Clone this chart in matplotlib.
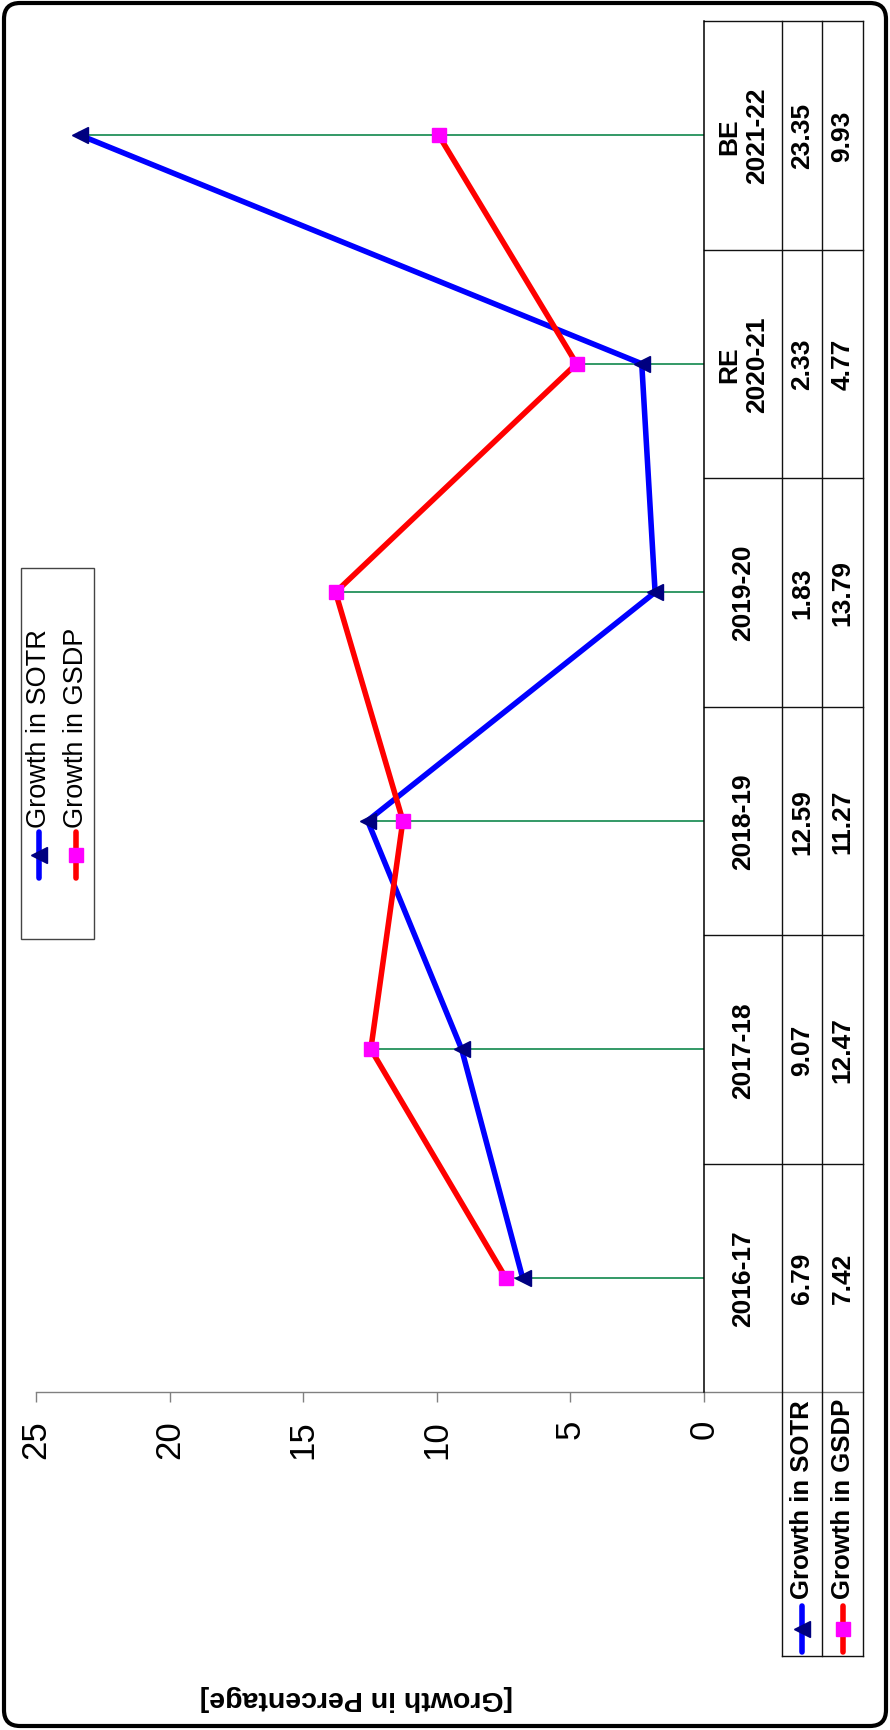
import matplotlib
matplotlib.use("Agg")
import matplotlib.pyplot as plt
from matplotlib.patches import Rectangle, FancyBboxPatch
import numpy as np

plt.rcParams['font.family'] = ['Liberation Sans', 'DejaVu Sans']

# ---------------- data ----------------
categories = ["2016-17", "2017-18", "2018-19", "2019-20", "RE\n2020-21", "BE\n2021-22"]
sotr = [6.79, 9.07, 12.59, 1.83, 2.33, 23.35]
gsdp = [7.42, 12.47, 11.27, 13.79, 4.77, 9.93]
series_names = ["Growth in SOTR", "Growth in GSDP"]
value_ticks = [0, 5, 10, 15, 20, 25]
value_label = "[Growth in Percentage]"

# ---------------- layout (pixels) ----------------
W, H = 890, 1731
PX0, PX25 = 704, 36          # value 0 and value 25 x positions
PTOP, PBOT = 22, 1393        # category band top/bottom
COLS = [704, 782, 822, 863]  # table column edges
KEY_BOT = 1657

fig = plt.figure(figsize=(W / 100, H / 100), dpi=100)
fig.patch.set_facecolor("white")

ax = fig.add_axes([PX25 / W, 1 - PBOT / H, (PX0 - PX25) / W, (PBOT - PTOP) / H])
n = len(categories)
idx = np.arange(n)
ax.set_xlim(25, 0)
ax.set_ylim(-0.5, n - 0.5)
for s in ["top", "left", "right"]:
    ax.spines[s].set_visible(False)
ax.spines["bottom"].set_color("#808080")
ax.spines["bottom"].set_linewidth(1.0)
ax.set_yticks([])
ax.set_xticks(value_ticks)
ax.set_xticklabels([str(v) for v in value_ticks], rotation=90, fontsize=25)
ax.tick_params(axis="x", direction="out", length=7.5, width=1.0, color="#808080", pad=12)

# drop lines to the highest point
mx = np.maximum(sotr, gsdp)
ax.hlines(idx, 0, mx, color="#339966", lw=1.4, zorder=1)

ax.plot(sotr, idx, color="#0000FF", lw=4.0, marker="<", ms=11,
        mfc="#000080", mec="#000080", zorder=3, clip_on=False)
ax.plot(gsdp, idx, color="#FF0000", lw=4.0, marker="s", ms=10,
        mfc="#FF00FF", mec="#FF00FF", zorder=4, clip_on=False)

# ---------------- overlay in pixel coords ----------------
ov = fig.add_axes([0, 0, 1, 1])
ov.set_xlim(0, W)
ov.set_ylim(H, 0)
ov.set_axis_off()

lc = "#111111"
row_h = (PBOT - PTOP) / n
for k in range(n + 1):
    y = PTOP + k * row_h
    ov.plot([COLS[0], COLS[3]], [y, y], color=lc if k < n else "#808080", lw=1.0)
ov.plot([COLS[0], COLS[0]], [PTOP, PBOT], color="black", lw=1.1)
for cx in COLS[1:]:
    ov.plot([cx, cx], [PTOP, KEY_BOT], color=lc, lw=1.0)
ov.plot([COLS[1], COLS[3]], [KEY_BOT, KEY_BOT], color=lc, lw=1.0)

cmid = (COLS[0] + COLS[1]) / 2
smid = (COLS[1] + COLS[2]) / 2
gmid = (COLS[2] + COLS[3]) / 2
for i, cat in enumerate(categories):
    yc = PBOT - (i + 0.5) * row_h
    ov.text(cmid, yc, cat, rotation=90, ha="center", va="center", fontsize=19,
            fontweight="bold", multialignment="center", linespacing=1.2)
    ov.text(smid, yc, f"{sotr[i]:.2f}", rotation=90, ha="center", va="center",
            fontsize=19, fontweight="bold")
    ov.text(gmid, yc, f"{gsdp[i]:.2f}", rotation=90, ha="center", va="center",
            fontsize=19, fontweight="bold")

styles = [dict(color="#0000FF", marker="<", ms=11, mfc="#000080", mec="#000080"),
          dict(color="#FF0000", marker="s", ms=10, mfc="#FF00FF", mec="#FF00FF")]
for xm, name, st in zip([smid, gmid], series_names, styles):
    ov.plot([xm, xm], [1607, 1653], lw=4.0, solid_capstyle="round", color=st["color"])
    ov.plot([xm], [1630], marker=st["marker"], ms=st["ms"], mfc=st["mfc"], mec=st["mec"],
            ls="none")
    ov.text(xm, 1599, name, rotation=90, ha="center", va="bottom", fontsize=18.5,
            fontweight="bold")

# legend box in plot
ov.add_patch(Rectangle((21, 569), 73, 371, facecolor="white", edgecolor="#444444",
                       lw=1.0, zorder=5))
for xm, name, st in zip([39, 76], series_names, styles):
    ov.plot([xm, xm], [833, 879], lw=4.0, solid_capstyle="round", color=st["color"], zorder=6)
    ov.plot([xm], [856], marker=st["marker"], ms=st["ms"], mfc=st["mfc"], mec=st["mec"],
            ls="none", zorder=7)
    ov.text(xm, 828, name, rotation=90, ha="center", va="bottom", fontsize=19.5, zorder=7)

ov.text((PX0 + PX25) / 2 - 14, 1698, value_label, rotation=180, ha="center", va="center",
        fontsize=20.5, fontweight="bold")

ov.add_patch(FancyBboxPatch((4, 4), W - 8, H - 8, boxstyle="round,pad=0,rounding_size=16",
                            facecolor="none", edgecolor="black", lw=3.0, zorder=10))

fig.savefig("out.png", dpi=100, facecolor="white")
